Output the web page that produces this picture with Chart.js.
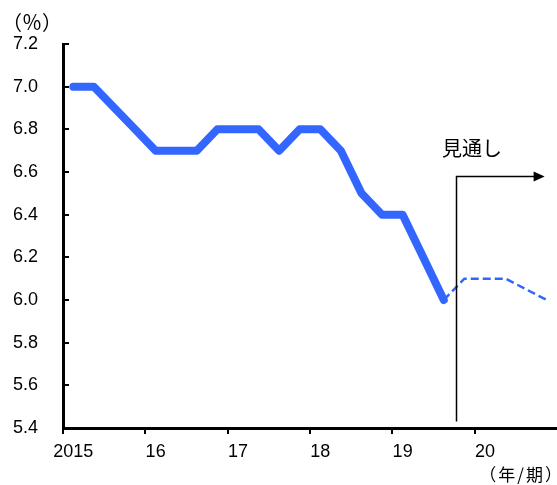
<!DOCTYPE html>
<html>
<head>
<meta charset="utf-8">
<script src="https://cdn.jsdelivr.net/npm/chart.js@4/dist/chart.umd.min.js"></script>
<style>
  html, body { margin: 0; padding: 0; background: #fff; }
  #wrap { width: 557px; height: 485px; position: relative; }
</style>
</head>
<body>
<div id="wrap"><canvas id="gdp"></canvas></div>
<script>
// 四半期ラベル（各年の第1四半期のみ表示）
const quarterLabels = [
  '2015', '', '', '',
  '16', '', '', '',
  '17', '', '', '',
  '18', '', '', '',
  '19', '', '', '',
  '20', '', '', ''
];

// 実績（前年比、%）
const actual = [
  7.0, 7.0, 6.9, 6.8,
  6.7, 6.7, 6.7, 6.8,
  6.8, 6.8, 6.7, 6.8,
  6.8, 6.7, 6.5, 6.4,
  6.4, 6.2, 6.0, null,
  null, null, null, null
];

// 見通し
const outlook = [
  null, null, null, null,
  null, null, null, null,
  null, null, null, null,
  null, null, null, null,
  null, null, 6.0, 6.1,
  6.1, 6.1, 6.05, 6.0
];

const yTicks = [5.4, 5.6, 5.8, 6.0, 6.2, 6.4, 6.6, 6.8, 7.0, 7.2];

const blue = '#3366ff';
const jpFont = '"Noto Sans CJK JP", sans-serif';

// 軸の内向き目盛り・見通し矢印・単位表記
const decorations = {
  id: 'decorations',
  afterDraw(chart) {
    const { ctx, chartArea, scales } = chart;
    const xs = scales.x, ys = scales.y;
    ctx.save();

    // y軸の目盛り（内向き）
    ctx.strokeStyle = '#000';
    ctx.lineWidth = 2;
    yTicks.forEach(v => {
      const y = Math.round(ys.getPixelForValue(v));
      ctx.beginPath();
      ctx.moveTo(chartArea.left, y);
      ctx.lineTo(chartArea.left + 6, y);
      ctx.stroke();
    });

    // 見通し矢印
    const ax = Math.round(xs.getPixelForValue(18.6)) + 0.5;
    const aTop = Math.round(ys.getPixelForValue(6.58)) + 0.5;
    const aBottom = ys.getPixelForValue(5.43);
    const aEnd = xs.getPixelForValue(22.9);
    ctx.lineWidth = 1.5;
    ctx.beginPath();
    ctx.moveTo(ax, aBottom);
    ctx.lineTo(ax, aTop);
    ctx.lineTo(aEnd - 9, aTop);
    ctx.stroke();
    ctx.fillStyle = '#000';
    ctx.beginPath();
    ctx.moveTo(aEnd, aTop);
    ctx.lineTo(aEnd - 11, aTop - 5);
    ctx.lineTo(aEnd - 11, aTop + 5);
    ctx.closePath();
    ctx.fill();

    ctx.textBaseline = 'middle';
    ctx.font = '20px ' + jpFont;
    ctx.textAlign = 'center';
    ctx.fillText('見通し', xs.getPixelForValue(19.37), ys.getPixelForValue(6.71));

    ctx.font = '20px ' + jpFont;
    ctx.textAlign = 'left';
    ctx.fillText('（％）', 2, 22);

    ctx.font = '17px ' + jpFont;
    ctx.letterSpacing = '2px';
    ctx.textAlign = 'right';
    ctx.fillText('（年/期）', 564, 475);

    ctx.restore();
  }
};

new Chart(document.getElementById('gdp'), {
  type: 'line',
  data: {
    labels: quarterLabels,
    datasets: [
      {
        label: '実績',
        data: actual,
        borderColor: blue,
        borderWidth: 8,
        borderCapStyle: 'round',
        borderJoinStyle: 'round',
        pointRadius: 0,
        tension: 0,
        spanGaps: false
      },
      {
        label: '見通し',
        data: outlook,
        borderColor: blue,
        borderWidth: 2.5,
        borderDash: [8, 4],
        pointRadius: 0,
        tension: 0
      }
    ]
  },
  options: {
    responsive: true,
    maintainAspectRatio: false,
    animation: false,
    layout: { padding: { top: 44, left: 0, right: 0, bottom: 0 } },
    plugins: {
      legend: { display: false },
      tooltip: { enabled: false }
    },
    scales: {
      x: {
        type: 'category',
        offset: true,
        afterFit: (s) => { s.height = 57; },
        border: { display: true, color: '#000', width: 3 },
        grid: {
          offset: true,
          drawOnChartArea: false,
          drawTicks: true,
          tickLength: 6,
          lineWidth: 2,
          color: (c) => (c.index !== undefined && c.index % 4 === 0) ? '#000' : 'rgba(0,0,0,0)'
        },
        ticks: {
          autoSkip: false,
          maxRotation: 0,
          padding: 7,
          color: '#000',
          font: { family: '"Liberation Sans", Arial, sans-serif', size: 18 }
        }
      },
      y: {
        min: 5.4,
        max: 7.2,
        afterFit: (s) => { s.width = 63; },
        afterBuildTicks: (s) => { s.ticks = yTicks.map(v => ({ value: v })); },
        border: { display: true, color: '#000', width: 3 },
        grid: { drawOnChartArea: false, drawTicks: false },
        ticks: {
          padding: 25,
          color: '#000',
          callback: (v) => v.toFixed(1),
          font: { family: '"Liberation Sans", Arial, sans-serif', size: 18 }
        }
      }
    }
  },
  plugins: [decorations]
});
</script>
</body>
</html>
